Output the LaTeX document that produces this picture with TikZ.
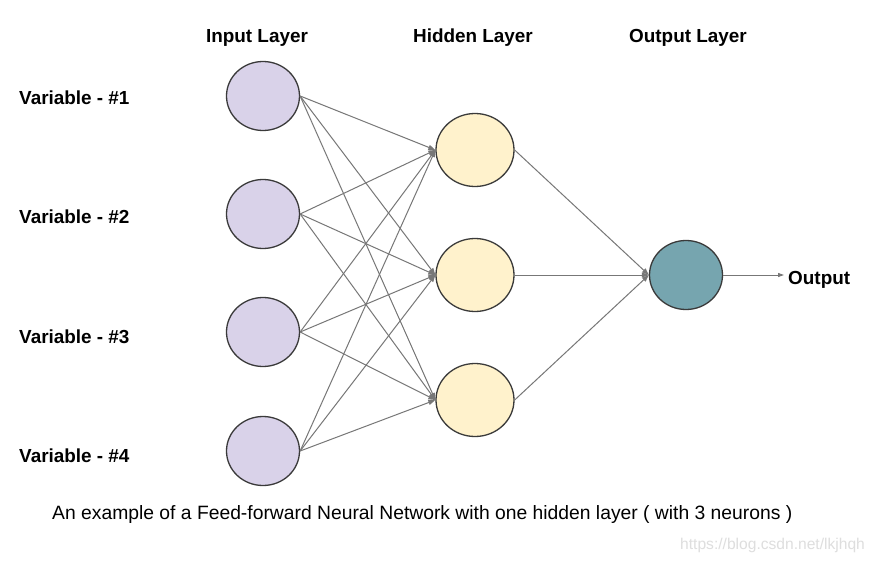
\documentclass[tikz,border=0pt]{standalone}
\usepackage{fontspec}
\setmainfont{Liberation Sans}
\usetikzlibrary{arrows.meta,shapes.geometric}
\definecolor{inpc}{HTML}{D9D2E9}
\definecolor{hidc}{HTML}{FFF2CC}
\definecolor{outc}{HTML}{76A5AF}
\definecolor{edgec}{HTML}{777777}
\definecolor{rimc}{HTML}{3A3A3A}
\tikzset{
  neuron/.style={ellipse, draw=rimc, line width=1.3pt, minimum width=73pt, minimum height=69pt, inner sep=0pt},
  inneuron/.style={neuron, fill=inpc},
  hidneuron/.style={neuron, fill=hidc, minimum width=78pt, minimum height=73pt},
  outneuron/.style={neuron, fill=outc},
  conn/.style={draw=edgec, line width=1pt, -{Triangle[length=7pt,width=5pt]}},
  boldtext/.style={font=\fontsize{18.9}{22}\selectfont\bfseries, inner sep=0pt},
  captext/.style={font=\fontsize{19.3}{22}\selectfont, inner sep=0pt},
  wmtext/.style={font=\fontsize{15.6}{18}\selectfont, text=black!13, inner sep=0pt}
}
\begin{document}
\begin{tikzpicture}[x=1pt,y=-1pt]
\useasboundingbox[fill=white] (0,0) rectangle (876,562);
% headers
\node[boldtext, anchor=base] (h1) at (257,42) {Input Layer};
\node[boldtext, anchor=base] (h2) at (473,42) {Hidden Layer};
\node[boldtext, anchor=base] (h3) at (688,42) {Output Layer};
% input nodes
\node[inneuron] (i1) at (263,96) {};
\node[inneuron] (i2) at (263,214) {};
\node[inneuron] (i3) at (263,332) {};
\node[inneuron] (i4) at (263,451) {};
% labels
\node[boldtext, anchor=base west] (v1) at (19,104.5) {Variable - \#1};
\node[boldtext, anchor=base west] (v2) at (19,223.5) {Variable - \#2};
\node[boldtext, anchor=base west] (v3) at (19,343) {Variable - \#3};
\node[boldtext, anchor=base west] (v4) at (19,462) {Variable - \#4};
% hidden nodes
\node[hidneuron] (n1) at (475,150) {};
\node[hidneuron] (n2) at (475,275) {};
\node[hidneuron] (n3) at (475,400) {};
% output node
\node[outneuron] (o) at (686,275) {};
\node[boldtext, anchor=base west] (ot) at (788,284) {Output};
% connections
\foreach \i in {1,2,3,4}{
  \foreach \j in {1,2,3}{
    \draw[conn] (i\i.east) -- (n\j.west);
  }
}
\foreach \j in {1,2,3}{
  \draw[conn] (n\j.east) -- (o.west);
}
\draw[conn, -{Triangle[length=6pt,width=4pt]}, shorten >=4pt] (o.east) -- (o.east -| ot.west);
% caption
\node[captext, anchor=base west] (c) at (52,519.5) {An example of a Feed-forward Neural Network with one hidden layer ( with 3 neurons )};
\node[wmtext, anchor=base west] (w) at (680,549) {https://blog.csdn.net/lkjhqh};
\end{tikzpicture}
\end{document}
